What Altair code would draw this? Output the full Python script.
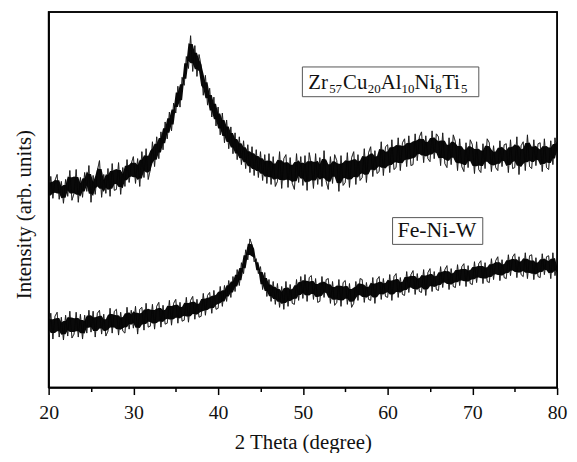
import altair as alt
import pandas as pd

# 2-theta scan grid (degrees)
theta_start = 20.0
theta_step = 0.25

# Zr57Cu20Al10Ni8Ti5 pattern (arbitrary units)
zr_intensity = [
    188, 213, 191, 209, 215, 190, 208, 186, 210, 193, 219, 189,
    196, 220, 187, 212, 192, 217, 198, 224, 187, 214, 195, 219,
    229, 192, 215, 196, 221, 193, 226, 199, 200, 227, 195, 222,
    203, 230, 207, 226, 233, 206, 231, 203, 238, 212, 241, 210,
    220, 248, 223, 253, 231, 258, 240, 268, 251, 278, 259, 287,
    277, 304, 283, 313, 305, 334, 322, 355, 319, 345, 314, 336,
    324, 295, 315, 285, 302, 273, 293, 264, 283, 255, 277, 247,
    270, 241, 263, 236, 257, 230, 253, 225, 249, 221, 245, 217,
    243, 214, 240, 212, 238, 209, 235, 206, 236, 205, 233, 203,
    208, 238, 201, 231, 235, 202, 232, 206, 200, 236, 207, 233,
    204, 234, 199, 237, 225, 201, 236, 205, 232, 203, 239, 208,
    200, 233, 206, 235, 229, 198, 234, 204, 207, 237, 202, 232,
    238, 205, 235, 209, 212, 241, 207, 237, 243, 213, 239, 216,
    218, 248, 214, 243, 245, 217, 250, 220, 222, 252, 219, 247,
    251, 223, 254, 224, 225, 256, 229, 253, 258, 227, 254, 231,
    228, 259, 231, 256, 253, 224, 257, 226, 222, 252, 225, 255,
    248, 219, 251, 223, 218, 247, 222, 250, 245, 216, 248, 220,
    217, 246, 221, 251, 247, 218, 244, 222, 219, 249, 223, 245,
    246, 217, 250, 221, 222, 253, 215, 244, 248, 219, 255, 223,
    221, 250, 224, 246, 247, 218, 251, 222, 220, 249, 225, 252,
    236,
]

# Fe-Ni-W pattern (arbitrary units)
fenw_intensity = [
    53, 75, 49, 72, 76, 51, 71, 48, 73, 52, 77, 50,
    54, 76, 51, 74, 49, 73, 55, 78, 56, 77, 51, 75,
    78, 54, 74, 52, 57, 80, 55, 77, 79, 53, 76, 57,
    55, 81, 59, 78, 60, 82, 54, 79, 81, 58, 85, 61,
    62, 84, 59, 82, 86, 61, 83, 64, 65, 88, 63, 85,
    89, 65, 86, 67, 68, 91, 66, 88, 92, 69, 89, 71,
    72, 95, 73, 93, 96, 75, 98, 79, 80, 102, 82, 103,
    87, 108, 91, 112, 97, 119, 103, 126, 115, 139, 129, 150,
    144, 127, 130, 115, 122, 99, 116, 92, 109, 87, 107, 84,
    105, 81, 102, 79, 107, 82, 104, 85, 84, 109, 88, 112,
    90, 114, 87, 111, 113, 89, 110, 86, 87, 112, 91, 109,
    110, 85, 107, 83, 86, 109, 82, 106, 108, 84, 105, 81,
    85, 107, 88, 110, 109, 86, 106, 89, 88, 111, 85, 109,
    112, 89, 110, 92, 91, 114, 88, 112, 115, 91, 111, 94,
    93, 117, 96, 114, 118, 94, 115, 97, 96, 119, 93, 116,
    120, 97, 117, 99, 98, 122, 101, 119, 123, 99, 120, 102,
    101, 124, 103, 122, 125, 102, 123, 105, 104, 127, 106, 125,
    128, 105, 126, 107, 106, 130, 109, 128, 132, 108, 129, 111,
    110, 134, 113, 132, 135, 111, 132, 114, 112, 136, 110, 133,
    134, 109, 131, 112, 111, 135, 114, 132, 133, 110, 136, 113,
    125,
]

x_ticks = [20, 25, 30, 35, 40, 45, 50, 55, 60, 65, 70, 75, 80]

# Label texts (formula pieces: main text and subscripts)
zr_pieces = ["Zr", "57", "Cu", "20", "Al", "10", "Ni", "8", "Ti", "5"]
fenw_label = "Fe-Ni-W"

theta = [theta_start + theta_step * i for i in range(len(zr_intensity))]
df = pd.DataFrame({
    "theta": theta * 2,
    "intensity": zr_intensity + fenw_intensity,
    "series": ["Zr"] * len(zr_intensity) + ["FeNiW"] * len(fenw_intensity),
})

FONT = "Liberation Serif, Times New Roman, DejaVu Serif, serif"

x_scale = alt.Scale(domain=[20, 80], nice=False, zero=False)
y_scale = alt.Scale(domain=[0, 379], nice=False, zero=False)

x_axis = alt.Axis(
    values=x_ticks,
    labelExpr="datum.value % 10 === 0 ? datum.label : ''",
    tickSize={"condition": {"test": "datum.value % 10 === 0", "value": 7}, "value": 4},
    tickWidth=1.5,
    tickColor="black",
    domainColor="black",
    domainWidth=1.5,
    labelFont=FONT,
    labelFontSize=20,
    labelColor="#111",
    labelPadding=8,
    labelFlush=False,
    title="2 Theta (degree)",
    titleFont=FONT,
    titleFontSize=21,
    titleFontWeight="normal",
    titleColor="#111",
    titlePadding=9,
    grid=False,
)
y_axis = alt.Axis(
    ticks=False,
    labels=False,
    domainColor="black",
    domainWidth=1.5,
    grid=False,
    title="Intensity (arb. units)",
    titleFont=FONT,
    titleFontSize=21,
    titleFontWeight="normal",
    titleColor="#111",
    titleX=-24,
    titleY=204,
    titleBaseline="middle",
    titleAngle=-90,
)

# noisy trace (grey fringe of the spikes)
lines = alt.Chart(df).mark_line(color="#5a5a5a", strokeWidth=1).encode(
    x=alt.X("theta:Q", scale=x_scale, axis=x_axis),
    y=alt.Y("intensity:Q", scale=y_scale, axis=y_axis),
    detail="series:N",
)

# dense black core of the noise band, from the local extent of the trace
core = (
    alt.Chart(df)
    .transform_window(
        lo="min(intensity)",
        hi="max(intensity)",
        frame=[-1, 1],
        groupby=["series"],
        sort=[alt.SortField("theta")],
    )
    .transform_calculate(
        core_lo="datum.lo + 0.23 * (datum.hi - datum.lo)",
        core_hi="datum.hi - 0.23 * (datum.hi - datum.lo)",
    )
    .mark_area(color="#0a0a0a")
    .encode(
        x=alt.X("theta:Q", scale=x_scale, axis=x_axis),
        y=alt.Y("core_lo:Q", scale=y_scale, axis=y_axis),
        y2="core_hi:Q",
        detail="series:N",
    )
)

# thin dark trace over the core
lines_dark = alt.Chart(df).mark_line(color="#000", strokeWidth=0.6, opacity=0.8).encode(
    x=alt.X("theta:Q", scale=x_scale, axis=x_axis),
    y=alt.Y("intensity:Q", scale=y_scale, axis=y_axis),
    detail="series:N",
)

one = pd.DataFrame({"k": [0]})

frame = alt.Chart(one).mark_rect(fillOpacity=0, stroke="black", strokeWidth=1.5).encode(
    x=alt.value(0), x2=alt.value(513), y=alt.value(0), y2=alt.value(379)
)

box_zr = alt.Chart(one).mark_rect(fill="white", stroke="#555", strokeWidth=1).encode(
    x=alt.value(256), x2=alt.value(434), y=alt.value(55.5), y2=alt.value(85.5)
)
box_fe = alt.Chart(one).mark_rect(fill="white", stroke="#555", strokeWidth=1).encode(
    x=alt.value(347), x2=alt.value(438), y=alt.value(207.5), y2=alt.value(234.5)
)

# layout of formula pieces (x offset of each piece)
piece_x = [262, 283, 297, 322, 335, 356, 369, 390, 397, 416]
layers = [lines, core, lines_dark, frame, box_zr, box_fe]
for i, txt in enumerate(zr_pieces):
    is_sub = i % 2 == 1
    d = pd.DataFrame({"t": [txt]})
    layers.append(
        alt.Chart(d).mark_text(
            font=FONT,
            fontSize=13 if is_sub else 21,
            align="left",
            baseline="alphabetic",
            color="#111",
        ).encode(
            text="t:N",
            x=alt.value(piece_x[i]),
            y=alt.value(81.5 if is_sub else 77.5),
        )
    )

layers.append(
    alt.Chart(pd.DataFrame({"t": [fenw_label]})).mark_text(
        font=FONT, fontSize=22, align="left", baseline="alphabetic", color="#111"
    ).encode(text="t:N", x=alt.value(352), y=alt.value(227.5))
)

chart = (
    alt.layer(*layers)
    .properties(
        width=513,
        height=379,
        background="white",
        autosize=alt.AutoSizeParams(type="none"),
        padding={"left": 41, "top": 2, "right": 12, "bottom": 64},
    )
    .configure_view(stroke="black", strokeWidth=1.5)
)

chart.save("out.html", embed_options={"renderer": "svg", "actions": False})
